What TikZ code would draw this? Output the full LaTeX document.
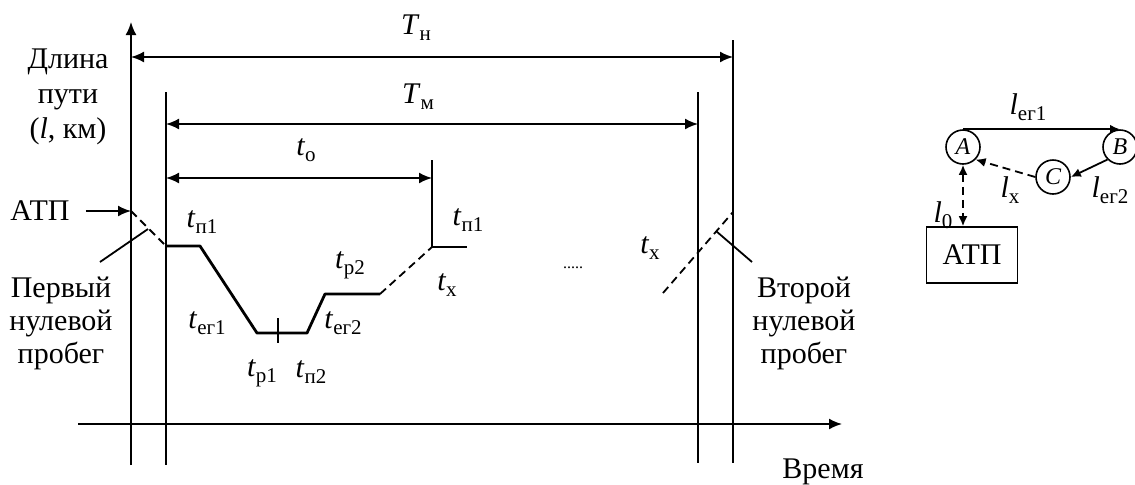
\documentclass[tikz,border=0pt]{standalone}
\usepackage{fontspec}
\setmainfont{Liberation Serif}
\usetikzlibrary{arrows.meta,calc}
\newcommand\tsub[2]{\textit{#1}\raisebox{-0.45ex}{\fontsize{10.5}{10.5}\selectfont #2}}
\begin{document}
\begin{tikzpicture}[x=0.5pt,y=-0.5pt, font=\fontsize{15}{16.5}\selectfont,
 ln/.style={line width=0.9pt},
 curve/.style={line width=1.4pt, line join=round},
 dsh/.style={line width=0.9pt, dash pattern=on 4pt off 2.5pt},
 arr/.style={-{Latex[length=6.5pt,width=5.5pt]}},
 darr/.style={{Latex[length=6.5pt,width=5.5pt]}-{Latex[length=6.5pt,width=5.5pt]}},
 lab/.style={inner sep=0pt},
 circ/.style={circle, draw, line width=0.8pt, minimum size=17pt, inner sep=0pt, font=\fontsize{12}{12}\selectfont\itshape},
 sarr/.style={-{Latex[length=5pt,width=4.5pt]}},
 sdarr/.style={{Latex[length=5pt,width=4.5pt]}-{Latex[length=5pt,width=4.5pt]}},
]
\useasboundingbox (0,0) rectangle (1135,484);
% coordinates
\coordinate (yb) at (131,465); \coordinate (yt) at (131,22);
\coordinate (xl) at (78,424); \coordinate (xr) at (842,424);
\coordinate (v1t) at (166,92); \coordinate (v1b) at (166,465);
\coordinate (v3t) at (698,92); \coordinate (v3b) at (698,463);
\coordinate (v4t) at (733,40); \coordinate (v4b) at (733,463);
\coordinate (v2t) at (432,160); \coordinate (v2b) at (432,247);
\coordinate (th1) at (131,57); \coordinate (th2) at (733,57);
\coordinate (tm1) at (166,124); \coordinate (tm2) at (698,124);
\coordinate (to1) at (166,178); \coordinate (to2) at (432,178);
\coordinate (p0) at (166,246); \coordinate (p1) at (200,246);
\coordinate (p2) at (257,333); \coordinate (p3) at (307,333);
\coordinate (p4) at (325,294); \coordinate (p5) at (380,294);
\coordinate (p7) at (467,247);
\coordinate (tk1) at (278,318); \coordinate (tk2) at (278,343);
\coordinate (atpA) at (131,211); \coordinate (d1e) at (164,244);
\coordinate (pt1a) at (100,262); \coordinate (pt1b) at (148,229);
\coordinate (d2a) at (663,293); \coordinate (d2b) at (733,212);
\coordinate (pt2a) at (752,262); \coordinate (pt2b) at (716,231);
% axes and verticals
\draw[ln,arr] (yb) -- (yt);
\draw[ln,arr] (xl) -- (xr);
\draw[ln] (v1t) -- (v1b);
\draw[ln] (v3t) -- (v3b);
\draw[ln] (v4t) -- (v4b);
\draw[ln] (v2t) -- (v2b);
% dimension arrows
\draw[ln,darr] (th1) -- (th2);
\draw[ln,darr] (tm1) -- (tm2);
\draw[ln,darr] (to1) -- (to2);
% schedule curve
\draw[curve] (p0) -- (p1) -- (p2) -- (p3) -- (p4) -- (p5);
\draw[dsh] (p5) -- (v2b);
\draw[curve] (v2b) -- (p7);
\draw[ln] (tk1) -- (tk2);
% zero runs
\node[lab] (atpL) at (40,211) {АТП};
\draw[ln,arr] (atpL.east) ++(8pt,0) -- (atpA);
\draw[dsh] (atpA) -- (d1e);
\draw[ln] (pt1a) -- (pt1b);
\draw[dsh] (d2a) -- (d2b);
\draw[ln] (pt2a) -- (pt2b);
% labels
\node[lab] (TH) at (416,28) {\tsub{T}{н}};
\node[lab] (TM) at (418,97) {\tsub{T}{м}};
\node[lab] (to) at (306,150) {\tsub{t}{о}};
\node[lab] (tp1a) at (202,222) {\tsub{t}{п1}};
\node[lab] (teg1) at (207,323) {\tsub{t}{ег1}};
\node[lab] (tr1) at (262,373) {\tsub{t}{р1}};
\node[lab] (tp2) at (311,372) {\tsub{t}{п2}};
\node[lab] (teg2) at (343,323) {\tsub{t}{ег2}};
\node[lab] (tr2) at (350,265) {\tsub{t}{р2}};
\node[lab] (tp1b) at (468,220) {\tsub{t}{п1}};
\node[lab] (tx1) at (447,285) {\tsub{t}{х}};
\node[lab, font=\fontsize{8}{8}\selectfont] (dots) at (573,268) {.....};
\node[lab] (tx2) at (650,248) {\tsub{t}{х}};
\node[lab, align=center, font=\fontsize{15}{17.5}\selectfont] (ylab) at (68,97) {Длина\\пути\\(\textit{l}, км)};
\node[lab, align=center] (z1) at (61,323) {Первый\\нулевой\\пробег};
\node[lab, align=center] (z2) at (804,323) {Второй\\нулевой\\пробег};
\node[lab] (time) at (823,472) {Время};
% route scheme
\node[circ] (A) at (963,147) {A};
\node[circ] (B) at (1120,147) {B};
\node[circ] (C) at (1053,177) {C};
\node[draw, line width=0.8pt, minimum width=45.5pt, minimum height=28pt, inner sep=0pt] (box) at (972,255) {АТП};
\draw[ln,sarr] (A.north) -- (B.north);
\draw[ln,sarr] (B.south west) -- (C.east);
\draw[dsh,sarr] (C.west) -- (A.south east);
\draw[dsh,sdarr] (A.south) -- (A.south |- box.north);
\node[lab] (leg1) at (1028,107) {\tsub{l}{ег1}};
\node[lab] (lx) at (1010,190) {\tsub{l}{х}};
\node[lab] (leg2) at (1110,190) {\tsub{l}{ег2}};
\node[lab] (l0) at (943,215) {\tsub{l}{0}};
\end{tikzpicture}
\end{document}
